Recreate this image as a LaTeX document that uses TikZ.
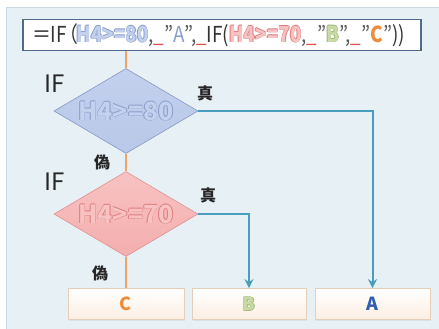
\documentclass[tikz,border=0pt]{standalone}
\usepackage{fontspec}
\setmainfont{Noto Sans CJK JP}
\usetikzlibrary{shapes.geometric,arrows.meta,shadows}

\definecolor{panel}{HTML}{E6F0F5}
\definecolor{panelline}{HTML}{C9D8E0}
\definecolor{frame}{HTML}{50698E}
\definecolor{qgray}{HTML}{5A5A5A}
\definecolor{ured}{HTML}{E05050}
\definecolor{bluefill}{HTML}{B9C8E8}
\definecolor{blueline}{HTML}{8797C4}
\definecolor{bluelite}{HTML}{C3D0EE}
\definecolor{bluetxt}{HTML}{8A9DCA}
\definecolor{pinkfill}{HTML}{F4AEAE}
\definecolor{pinkline}{HTML}{E29090}
\definecolor{pinklite}{HTML}{F8C2C2}
\definecolor{pinktxt}{HTML}{DC7D7D}
\definecolor{greenlite}{HTML}{C9DAA6}
\definecolor{greentxt}{HTML}{A3B97A}
\definecolor{orangeA}{HTML}{EE8C3C}
\definecolor{blueA}{HTML}{2F5FAE}
\definecolor{flowor}{HTML}{F0A466}
\definecolor{flowbl}{HTML}{4B9DBD}
\definecolor{boxline}{HTML}{E4CFBB}
\definecolor{boxfill}{HTML}{FCEFE2}

% light bold letters with a darker rim
\newcommand\rimtext[3]{{\bfseries\leavevmode
  \rlap{\kern-0.6pt\textcolor{#2}{#3}}%
  \rlap{\kern0.6pt\textcolor{#2}{#3}}%
  \rlap{\raisebox{0.6pt}{\textcolor{#2}{#3}}}%
  \rlap{\raisebox{-0.6pt}{\textcolor{#2}{#3}}}%
  \textcolor{#1}{#3}}}

\begin{document}
\begin{tikzpicture}[x=1pt,y=-1pt,
  formula/.style={draw=frame,line width=1.6pt,fill=white,inner xsep=9pt,
    inner ysep=0pt,text width=380pt,minimum height=31pt,align=left,
    font=\fontsize{22}{22}\selectfont},
  decision/.style={diamond,inner sep=0pt,aspect=1.7,minimum width=144pt,
    minimum height=85pt,font=\fontsize{25}{25}\selectfont},
  bluedec/.style={decision,draw=blueline,line width=0.6pt,top color=bluelite,bottom color=bluefill},
  pinkdec/.style={decision,draw=pinkline,line width=0.6pt,top color=pinklite,bottom color=pinkfill},
  result/.style={draw=boxline,line width=0.8pt,top color=white,bottom color=boxfill,
    minimum height=31pt,inner sep=0pt,font=\fontsize{18}{18}\selectfont\bfseries,
    drop shadow={opacity=0.12,shadow xshift=1pt,shadow yshift=-1pt}},
  tag/.style={inner sep=0pt,text=black!85},
  orflow/.style={draw=flowor,line width=2.2pt},
  blflow/.style={draw=flowbl,line width=2pt,-{Stealth[length=9pt,width=9pt]}}]

\useasboundingbox (0,0) rectangle (439,329);
\fill[white] (0,0) rectangle (439,329);
\fill[panel] (6,7) rectangle (439,329);
\draw[panelline,line width=0.8pt] (6,329) -- (6,7) -- (439,7);

% the formula
\node[formula] (f) at (222,35) {\scalebox{0.86}[1]{%
  \textcolor{black!80}{＝IF\kern-9pt（\kern-2pt}\rimtext{bluelite}{bluetxt}{H4>=80}%
  \textcolor{qgray}{,}\textcolor{ured}{\_}\textcolor{qgray}{"}\textcolor{bluetxt}{A}\textcolor{qgray}{",}\textcolor{ured}{\_}%
  \textcolor{black!80}{IF(}\rimtext{pinklite}{pinktxt}{H4>=70}%
  \textcolor{qgray}{,}\textcolor{ured}{\_}\textcolor{qgray}{"}\rimtext{greenlite}{greentxt}{B}\textcolor{qgray}{",}\textcolor{ured}{\_}%
  \textcolor{qgray}{"}\textcolor{orangeA}{\bfseries C}\textcolor{qgray}{"}\textcolor{black!80}{))}}};

% decisions
\node[bluedec] (d1) at (126,111) {\rimtext{bluelite}{bluetxt}{H4>=80}};
\node[pinkdec] (d2) at (126,214) {\rimtext{pinklite}{pinktxt}{H4>=70}};

% results
\node[result,minimum width=116pt] (C) at (126,304) {\textcolor{orangeA}{C}};
\node[result,minimum width=114pt] (B) at (249,304) {\rimtext{greenlite}{greentxt}{B}};
\node[result,minimum width=115pt] (A) at (372.5,304) {\textcolor{blueA}{A}};

% flow lines
\draw[orflow] (d1.north |- f.south) -- (d1.north);
\draw[orflow] (d1.south) -- (d2.north);
\draw[orflow] (d2.south) -- (C.north);
\draw[blflow] (d1.east) -| (A.north);
\draw[blflow] (d2.east) -| (B.north);

% branch tags
\node[tag,font=\fontsize{24}{24}\selectfont] (if1) at (55,84) {IF};
\node[tag,font=\fontsize{24}{24}\selectfont] (if2) at (55,182) {IF};
\node[tag,font=\fontsize{16}{16}\selectfont\bfseries] (t1) at (205,93) {真};
\node[tag,font=\fontsize{16}{16}\selectfont\bfseries] (t2) at (208,195) {真};
\node[tag,font=\fontsize{16}{16}\selectfont\bfseries] (n1) at (102,162) {偽};
\node[tag,font=\fontsize{16}{16}\selectfont\bfseries] (n2) at (100,273) {偽};
\end{tikzpicture}
\end{document}
